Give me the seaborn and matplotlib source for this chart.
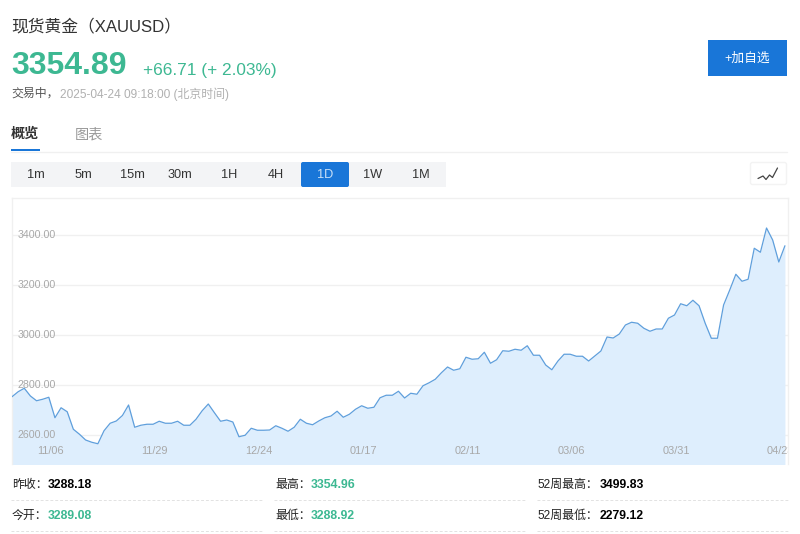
import matplotlib
matplotlib.use('Agg')
import matplotlib.pyplot as plt
from matplotlib.patches import FancyBboxPatch, Rectangle
from matplotlib.transforms import ScaledTranslation
import pandas as pd
import seaborn as sns

# one close per trading day
closes = [
    2751, 2771, 2785, 2754, 2735, 2741, 2749, 2667, 2707, 2691,
    2621, 2601, 2578, 2569, 2563, 2615, 2645, 2654, 2676, 2718,
    2629, 2637, 2641, 2641, 2653, 2645, 2645, 2653, 2637, 2637,
    2661, 2695, 2722, 2687, 2653, 2658, 2650, 2591, 2597, 2625,
    2617, 2617, 2618, 2635, 2625, 2613, 2629, 2661, 2645, 2639,
    2654, 2667, 2674, 2693, 2669, 2681, 2701, 2715, 2705, 2709,
    2747, 2757, 2757, 2773, 2746, 2765, 2761, 2795, 2807, 2821,
    2847, 2870, 2857, 2863, 2909, 2901, 2903, 2929, 2885, 2899,
    2935, 2933, 2941, 2937, 2955, 2917, 2917, 2878, 2859, 2894,
    2921, 2921, 2913, 2913, 2894, 2914, 2934, 2990, 2986, 3002,
    3038, 3049, 3045, 3025, 3013, 3022, 3022, 3065, 3078, 3123,
    3115, 3137, 3115, 3045, 2985, 2985, 3118, 3178, 3241, 3213,
    3221, 3345, 3329, 3426, 3378, 3290, 3355,
]
date_ticks = [6, 23, 40, 57, 74, 91, 108, 125]
date_labels = ['11/06', '11/29', '12/24', '01/17', '02/11', '03/06', '03/31', '04/23']
price_ticks = [2600, 2800, 3000, 3200, 3400]
price_labels = ['2600.00', '2800.00', '3000.00', '3200.00', '3400.00']

periods = ['1m', '5m', '15m', '30m', '1H', '4H', '1D', '1W', '1M']
period_centers = [36, 83, 132, 180, 229, 276, 325, 373, 421]

stat_rows = [
    [('昨收：', '3288.18', 'black'), ('最高：', '3354.96', 'green'), ('52周最高：', '3499.83', 'black')],
    [('今开：', '3289.08', 'green'), ('最低：', '3288.92', 'green'), ('52周最低：', '2279.12', 'black')],
]

GREEN = '#3db892'
BLUE = '#1976d8'
LINE = '#5f9fdc'
FILL = '#deeefd'
GRID = '#f0f0f0'

sns.set_theme(style='white')
plt.rcParams['font.family'] = ['Liberation Sans', 'Noto Sans CJK SC', 'DejaVu Sans']

W, H = 800, 534
fig = plt.figure(figsize=(W / 100, H / 100), dpi=100, facecolor='white')

# page chrome is laid out in pixels on a full-size axes
page = fig.add_axes([0, 0, 1, 1])
page.set_xlim(0, W)
page.set_ylim(H, 0)
page.axis('off')

page.text(11, 26.5, '现货黄金（XAUUSD）', fontsize=12.1, color='#333333', va='center')
page.text(11, 66, '3354.89', fontsize=23, fontweight='bold', color=GREEN, va='center')
page.text(143, 70, '+66.71 (+ 2.03%)', fontsize=12.4, color=GREEN, va='center')
page.text(11, 94, '交易中，', fontsize=8.6, color='#555555', va='center')
page.text(60, 94, '2025-04-24 09:18:00 (北京时间)', fontsize=8.6, color='#b0b0b0', va='center')

page.add_patch(Rectangle((708, 40), 79, 36, color=BLUE, lw=0))
page.text(747.5, 58.5, '+加自选', fontsize=9.2, color='white', ha='center', va='center')

page.text(11, 134, '概览', fontsize=10.2, fontweight='bold', color='#333333', va='center')
page.text(75, 134, '图表', fontsize=10.2, color='#999999', va='center')
page.plot([11, 787], [151.5, 151.5], color='#f0f0f0', lw=1)
page.add_patch(Rectangle((11, 148.5), 29, 2.5, color=BLUE, lw=0))

page.add_patch(Rectangle((11, 162), 435, 25, color='#f3f4f6', lw=0))
page.add_patch(FancyBboxPatch((302, 163), 46, 23, boxstyle='round,pad=1,rounding_size=2', color=BLUE, lw=0))
for name, cx in zip(periods, period_centers):
    page.text(cx, 175.5, name, fontsize=9.2, ha='center', va='center',
              color='#c9e0f7' if name == '1D' else '#333333')

page.add_patch(FancyBboxPatch((751, 163), 35, 21, boxstyle='round,pad=0.5,rounding_size=2',
                              fc='white', ec='#f3f3f3', lw=1))
page.plot([758, 763, 766, 769.5, 772.5, 777.5], [178.5, 176, 179.5, 175, 177.5, 168],
          color='#444444', lw=0.9)

for row, label_y, dash_y in zip(stat_rows, [485, 516], [500, 531]):
    for (label, value, tone), left, val_x, right in zip(row, [12, 275, 538], [48, 311, 600], [262, 525, 788]):
        page.text(left, label_y, label, fontsize=8.6, color='#222222', va='center')
        page.text(val_x, label_y, value, fontsize=8.8, fontweight='bold', va='center',
                  color=GREEN if tone == 'green' else 'black')
        page.plot([left - 1, right], [dash_y, dash_y], color='#e2e2e2', lw=0.7, ls=(0, (3, 2)))

# price chart: left 12, right 788, top 198, bottom 464 in pixels
ax = fig.add_axes([12 / W, 1 - 464 / H, 776 / W, 266 / H])
ax.patch.set_alpha(0)
df = pd.DataFrame({'day': range(len(closes)), 'close': closes})

# grid sits under the fill, tick labels stay above it
ax.hlines(price_ticks, 0, 126.5, color=GRID, lw=1, zorder=1)
ax.fill_between(df['day'], df['close'], 2400, color=FILL, lw=0, zorder=2)
sns.lineplot(data=df, x='day', y='close', ax=ax, color=LINE, lw=0.9, zorder=3, errorbar=None)

ax.set_xlim(0, 126.5)
ax.set_ylim(2482, 3546)
ax.set_xlabel('')
ax.set_ylabel('')
ax.set_xticks(date_ticks, date_labels)
ax.set_yticks(price_ticks, price_labels)
ax.set_axisbelow(False)
ax.tick_params(axis='x', length=0, pad=-13, labelsize=7.9, labelcolor='#a8a8a8')
ax.tick_params(axis='y', length=0, pad=-3.7, labelsize=7.7, labelcolor='#a8a8a8')
for lbl in ax.get_yticklabels():
    lbl.set_ha('left')
nudge = ScaledTranslation(1.5 / 100, 0, fig.dpi_scale_trans)
for lbl in ax.get_xticklabels():
    lbl.set_transform(lbl.get_transform() + nudge)
    lbl.set_clip_on(True)
    lbl.set_clip_path(ax.patch)
for side in ['left', 'right', 'top']:
    ax.spines[side].set_color(GRID)
    ax.spines[side].set_linewidth(1)
ax.spines['bottom'].set_visible(False)

fig.savefig('out.png', dpi=100)
plt.close(fig)
